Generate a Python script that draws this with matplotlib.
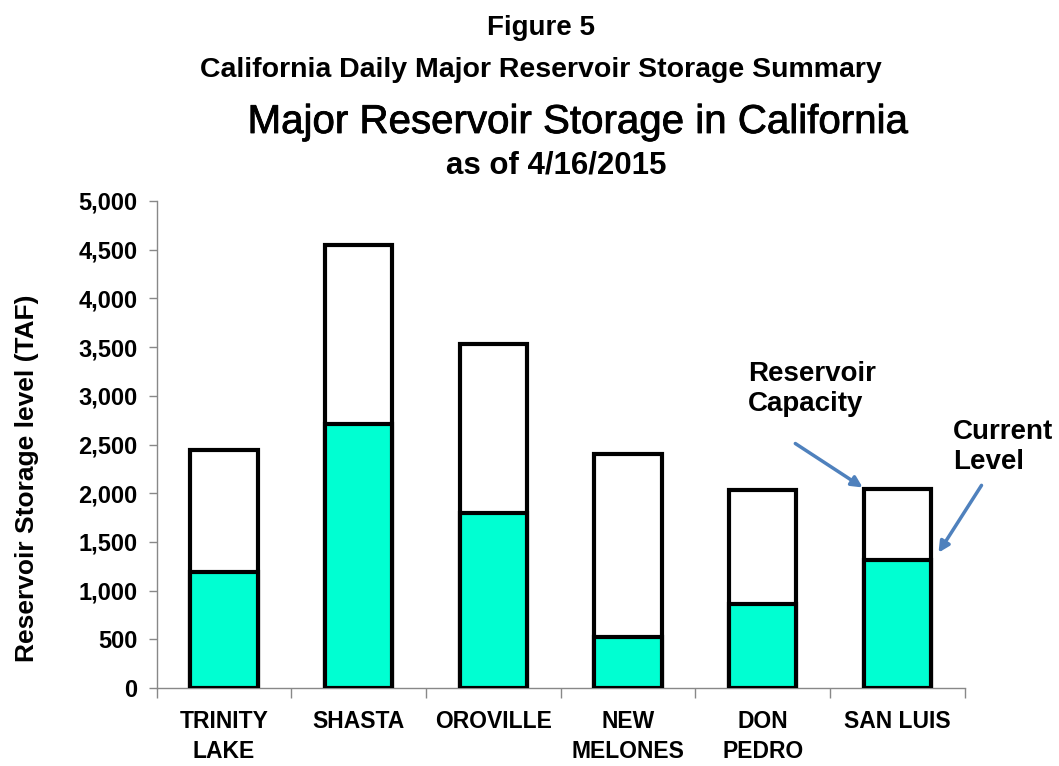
import matplotlib
matplotlib.use("Agg")
import matplotlib.pyplot as plt
import matplotlib.patheffects as pe
from matplotlib.ticker import FuncFormatter

categories = ["TRINITY\nLAKE", "SHASTA", "OROVILLE", "NEW\nMELONES", "DON\nPEDRO", "SAN LUIS"]
capacity = [2448, 4552, 3537, 2400, 2030, 2041]
current = [1195, 2715, 1800, 525, 860, 1318]
yticks = [0, 500, 1000, 1500, 2000, 2500, 3000, 3500, 4000, 4500, 5000]

plt.rcParams['font.family'] = ['Liberation Sans', 'DejaVu Sans']

fig = plt.figure(figsize=(10.59, 7.66), dpi=100)
ax = fig.add_axes([0.148, 0.1018, 0.763, 0.6358])

x = list(range(len(categories)))
ax.bar(x, capacity, width=0.5, color='white', edgecolor='black', linewidth=3, zorder=2)
ax.bar(x, current, width=0.5, color='#00FFD2', edgecolor='black', linewidth=3, zorder=3)

ax.set_xlim(-0.5, len(categories) - 0.5)
ax.set_ylim(0, 5000)
ax.set_yticks(yticks)
ax.yaxis.set_major_formatter(FuncFormatter(lambda v, p: f"{int(v):,}"))
ax.set_xticks(x)
ax.set_xticklabels(categories, fontsize=16.5, fontweight='bold', linespacing=1.35)
ax.set_xticks([i - 0.5 for i in range(len(categories) + 1)], minor=True)
ax.tick_params(axis='x', which='major', length=0, pad=16)
ax.tick_params(axis='x', which='minor', length=7, color='#888888', width=1, direction='out')
ax.tick_params(axis='y', length=6, color='#888888', width=1, labelsize=17, pad=8)
for lab in ax.get_yticklabels():
    lab.set_fontweight('bold')

for s in ['top', 'right']:
    ax.spines[s].set_visible(False)
for s in ['left', 'bottom']:
    ax.spines[s].set_color('#888888')
    ax.spines[s].set_linewidth(1)

fig.text(27/1059, 1 - 478/766, "Reservoir Storage level (TAF)", rotation=90, ha='center', va='center',
         fontsize=19, fontweight='bold')

fig.text(541/1059, 1 - 28/766, "Figure 5", ha='center', va='center', fontsize=20, fontweight='bold')
fig.text(541/1059, 1 - 70/766, "California Daily Major Reservoir Storage Summary", ha='center', va='center',
         fontsize=20.5, fontweight='bold')
fig.text(578/1059, 1 - 122/766, "Major Reservoir Storage in California", ha='center', va='center',
         fontsize=29, path_effects=[pe.withStroke(linewidth=0.6, foreground='black')])
fig.text(556/1059, 1 - 165/766, "as of 4/16/2015", ha='center', va='center', fontsize=22.5, fontweight='bold')

arrow_color = '#4F81BD'
fig.text(748/1059, 1 - 389/766, "Reservoir\nCapacity", ha='left', va='center', fontsize=20,
         fontweight='bold', linespacing=1.2)
fig.text(953/1059, 1 - 447/766, "Current\nLevel", ha='left', va='center', fontsize=20,
         fontweight='bold', linespacing=1.2)
ax.annotate("", xy=(865/1059, 1 - 489/766), xytext=(793/1059, 1 - 442/766),
            xycoords='figure fraction', textcoords='figure fraction',
            arrowprops=dict(arrowstyle='-|>', color=arrow_color, lw=2.5, mutation_scale=16))
ax.annotate("", xy=(937/1059, 1 - 555/766), xytext=(983/1059, 1 - 483/766),
            xycoords='figure fraction', textcoords='figure fraction',
            arrowprops=dict(arrowstyle='-|>', color=arrow_color, lw=2.5, mutation_scale=16))

fig.savefig("out.png", dpi=100)
